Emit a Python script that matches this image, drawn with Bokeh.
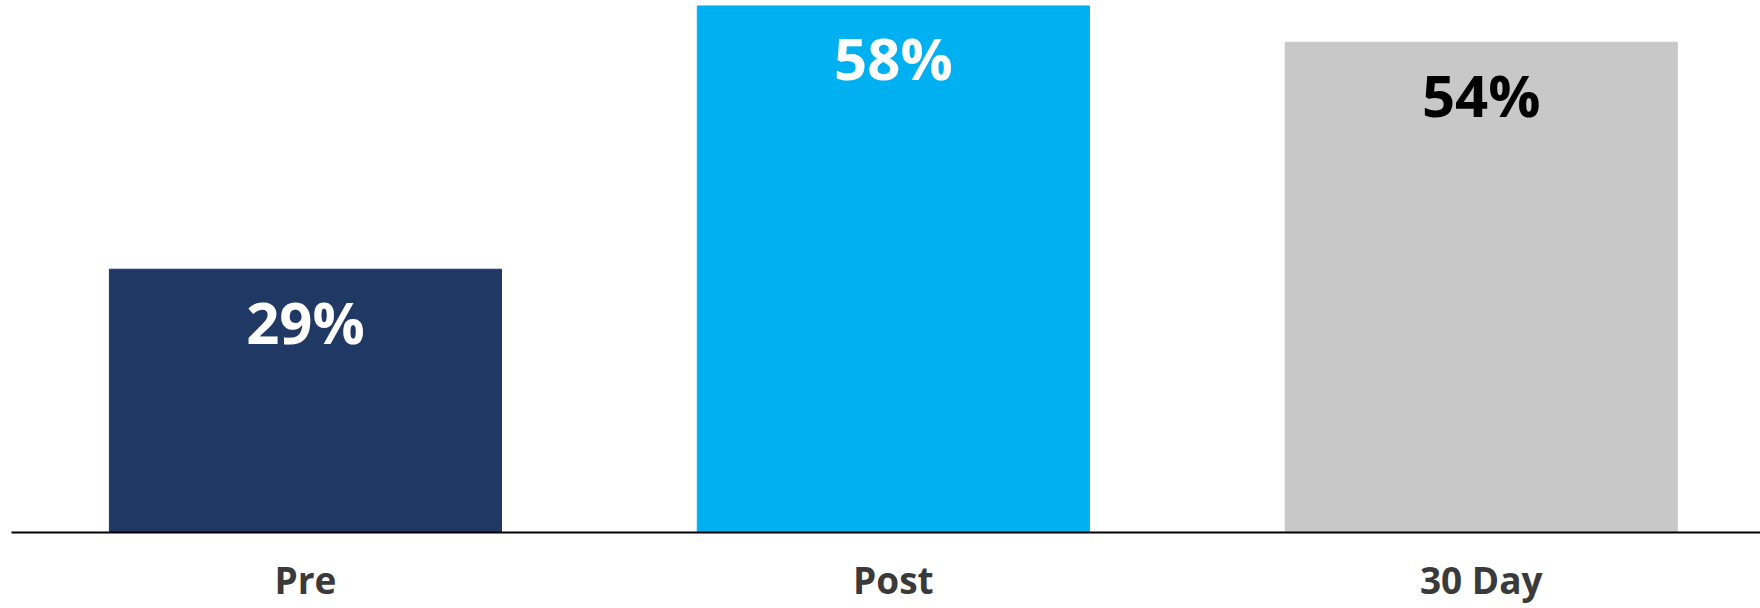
from bokeh.plotting import figure
from bokeh.models import ColumnDataSource, Range1d, FixedTicker
from bokeh.core.properties import value
from bokeh.embed import file_html
from bokeh.resources import INLINE

# Share of respondents at each survey point
stages = ["Pre", "Post", "30 Day"]
shares = [29, 58, 54]
bar_colors = ["#203864", "#00B0F0", "#C8C8C8"]
label_colors = ["#FFFFFF", "#FFFFFF", "#000000"]

positions = [i + 0.5 for i in range(len(stages))]
source = ColumnDataSource(dict(
    x=positions,
    top=shares,
    color=bar_colors,
    label=[f"{v}%" for v in shares],
    label_color=label_colors,
))

p = figure(
    width=1760, height=608,
    x_range=Range1d(0, 2.975), y_range=Range1d(0, 58.6),
    output_backend="svg", toolbar_location=None,
    min_border_left=11, min_border_right=0, min_border_top=0, min_border_bottom=76,
)

p.vbar(x="x", top="top", bottom=0, width=0.667, color="color", source=source)

# value labels inside the top of each bar
p.text(
    x="x", y="top", text="label", source=source,
    text_color="label_color", text_font=value("Open Sans"), text_font_style="bold",
    text_font_size="58px", text_align="center", text_baseline="alphabetic",
    y_offset=52,
)

p.xaxis.ticker = FixedTicker(ticks=positions)
p.xaxis.major_label_overrides = {pos: name for pos, name in zip(positions, stages)}
p.xaxis.major_label_text_font = "Open Sans"
p.xaxis.major_label_text_font_style = "bold"
p.xaxis.major_label_text_font_size = "37px"
p.xaxis.major_label_text_color = "#3A3A3A"
p.xaxis.major_label_standoff = 21
p.xaxis.axis_line_color = "#000000"
p.xaxis.axis_line_width = 2
p.xaxis.major_tick_line_color = None
p.xaxis.minor_tick_line_color = None
p.xaxis.major_tick_out = 0
p.xaxis.major_tick_in = 0

p.yaxis.visible = False
p.xgrid.visible = False
p.ygrid.visible = False
p.outline_line_color = None
p.background_fill_color = "#FFFFFF"
p.border_fill_color = "#FFFFFF"

open("out.html", "w").write(file_html(p, INLINE))
